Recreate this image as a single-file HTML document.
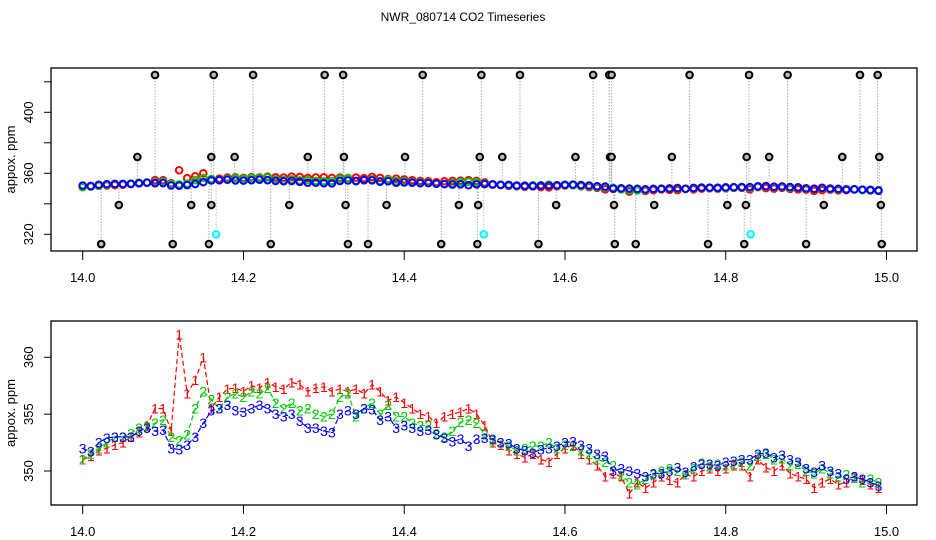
<!DOCTYPE html>
<html><head><meta charset="utf-8"><style>
html,body{margin:0;padding:0;background:#fff;}
svg{display:block;font-family:"Liberation Sans",sans-serif;}
</style></head><body>
<svg id="chart" width="936" height="540" xmlns="http://www.w3.org/2000/svg">
<text x="463" y="21" font-size="12" text-anchor="middle">NWR_080714  CO2 Timeseries</text>
<g id="top"></g>
<g id="bot"></g>
</svg>
<script>
const xStart = 14.0, xStep = 0.01;
const s1 = [351.0,351.3,351.8,352.0,352.3,352.5,353.0,353.4,354.0,355.5,
355.5,353.5,362.0,356.8,358.0,360.0,355.5,356.5,357.2,357.3,
357.0,357.5,357.3,357.8,357.4,357.2,357.8,357.6,357.0,357.3,
357.4,357.0,357.2,357.0,357.2,356.8,357.6,357.0,356.2,356.5,
356.0,355.5,355.0,354.8,354.2,354.8,355.0,355.2,355.5,355.0,
354.0,352.5,352.3,351.8,351.5,351.2,351.5,351.0,350.8,351.5,
352.0,352.3,351.5,351.0,350.5,349.5,349.8,349.5,348.0,349.0,
348.5,349.0,349.5,349.2,349.0,349.7,349.5,350.0,350.2,350.0,
350.2,350.5,350.5,349.5,351.0,350.3,350.0,350.5,349.8,349.5,
349.3,348.5,349.0,349.3,348.8,349.0,349.5,349.2,348.8,348.5];
const s2 = [351.0,351.5,352.0,352.5,353.0,353.0,353.3,353.8,353.9,354.2,
354.5,353.0,352.7,353.2,355.5,357.0,356.3,355.5,356.5,356.8,
356.5,357.0,356.8,357.3,356.0,355.5,356.0,355.3,355.5,355.0,
354.8,355.0,356.5,356.8,354.8,355.5,356.0,355.0,355.8,354.8,
354.8,354.2,354.0,354.0,353.3,353.0,353.5,354.3,354.5,354.2,
353.2,352.7,352.5,352.2,351.8,352.0,352.2,352.2,352.5,352.0,
352.3,352.2,351.8,351.5,351.0,350.8,350.5,349.6,349.0,348.8,
349.3,349.7,350.0,350.2,350.0,349.7,350.2,350.7,350.4,350.6,
350.5,350.6,350.8,350.5,351.3,351.5,351.0,351.1,350.5,350.6,
350.0,349.8,350.2,349.8,349.5,349.7,349.4,349.0,349.3,349.0];
const s3 = [352.0,351.7,352.5,352.9,353.0,353.0,353.0,353.5,353.8,353.5,
353.6,352.0,351.9,352.3,353.0,354.2,355.3,355.5,355.8,355.3,
355.2,355.5,355.8,355.5,355.0,354.8,355.0,354.4,353.8,353.8,
353.5,353.4,355.0,355.3,355.0,355.5,355.4,354.5,354.8,353.8,
354.0,353.8,353.5,353.6,353.2,352.9,352.6,352.8,352.2,352.8,
352.9,352.8,352.5,352.4,352.0,351.8,351.6,351.9,352.0,352.2,
352.5,352.6,352.3,352.0,351.5,351.3,350.0,350.2,350.0,349.8,
349.5,349.8,349.8,350.0,350.3,349.9,350.4,350.6,350.6,350.5,
350.8,350.9,351.0,351.0,351.5,351.6,351.2,351.4,351.0,350.8,
350.2,349.9,350.5,350.0,349.8,349.3,349.5,349.3,349.0,348.7];
const outX424 = [14.090,14.163,14.212,14.301,14.324,14.423,14.496,14.544,14.635,14.655,14.658,14.755,14.829,14.877,14.967,14.989];
const outX371 = [14.068,14.160,14.189,14.280,14.325,14.401,14.494,14.522,14.613,14.656,14.658,14.733,14.826,14.854,14.945,14.991];
const outX339 = [14.045,14.135,14.160,14.257,14.327,14.378,14.468,14.492,14.589,14.661,14.711,14.802,14.825,14.922,14.993];
const outX314 = [14.023,14.112,14.157,14.234,14.330,14.355,14.446,14.491,14.567,14.662,14.688,14.778,14.823,14.900,14.994];
const outXcyan = [14.166,14.499,14.831];
const outLevels = [424.5,370.7,339.2,313.6];
const cyanLevel = 320;
const xTicks = ["14.0","14.2","14.4","14.6","14.8","15.0"];
const topYTicks = [320,340,360,380,400,420];
const topYLabels = ["320","","360","","400",""];
const botYTicks = [350,355,360];

const NS="http://www.w3.org/2000/svg";
function mk(tag, attrs, parent){const e=document.createElementNS(NS,tag);for(const k in attrs)e.setAttribute(k,attrs[k]);parent.appendChild(e);return e;}
const xs = v => 82.7 + (v-14)*803.8;
const yTop = v => 173.3 - (v-360)*1.525;
const yBot = v => 471 - (v-350)*11.37;
const xOf = i => xStart + i*xStep;

function frame(g, top, bottom, yFn, ticks, labels, yname){
  const box=mk('rect',{x:51,y:top,width:866,height:bottom-top,fill:'none',stroke:'#000','stroke-width':1.3},g);
  
  
  xTicks.forEach(t=>{
    const x=xs(parseFloat(t));
    const l=mk('line',{x1:x,y1:bottom,x2:x,y2:bottom+9,stroke:'#000'},g);
    
    
    const tx=mk('text',{x:x,y:bottom+31,'font-size':13,'text-anchor':'middle'},g);
    tx.textContent=t;
    
    
  });
  ticks.forEach((t,i)=>{
    const y=yFn(t);
    const l=mk('line',{x1:44,y1:y,x2:51,y2:y,stroke:'#000'},g);
    
    
    const lab = labels ? labels[i] : String(t);
    if(lab){
      const tx=mk('text',{x:0,y:0,'font-size':13,'text-anchor':'middle',transform:`translate(33,${y}) rotate(-90)`},g);
      tx.textContent=lab;
      
      
    }
  });
  const yt=mk('text',{x:0,y:0,'font-size':13,'text-anchor':'middle',transform:`translate(15,${(top+bottom)/2}) rotate(-90)`},g);
  yt.textContent='appox. ppm';
  
  
}

// Top panel
const gt=document.getElementById('top');
frame(gt,68,251,yTop,topYTicks,topYLabels,'top-y-axis-title');
const outs=[outX424,outX371,outX339,outX314];
outs.forEach((arr,li)=>arr.forEach(x=>{
  const l=mk('line',{x1:xs(x),y1:yTop(outLevels[li]),x2:xs(x),y2:yTop(353),stroke:'#aaa','stroke-dasharray':'1.5,1.5'},gt);
  
  
}));
outXcyan.forEach(x=>{
  const l=mk('line',{x1:xs(x),y1:yTop(cyanLevel),x2:xs(x),y2:yTop(353),stroke:'#bbb','stroke-dasharray':'1.5,1.5'},gt);
  
  
});
[[s1,'#f00','series1-point'],[s2,'#0c0','series2-point'],[s3,'#00f','series3-point']].forEach(([s,c,n])=>{
  s.forEach((v,i)=>{
    const p=mk('circle',{cx:xs(xOf(i)),cy:yTop(v),r:3.3,fill:'none',stroke:c,'stroke-width':2},gt);
    
    
  });
});
outs.forEach((arr,li)=>arr.forEach(x=>{
  const p=mk('circle',{cx:xs(x),cy:yTop(outLevels[li]),r:3.3,fill:'#bbb',stroke:'#000','stroke-width':2},gt);
  
  
}));
outXcyan.forEach(x=>{
  const p=mk('circle',{cx:xs(x),cy:yTop(cyanLevel),r:3.3,fill:'#ddd',stroke:'#0ff','stroke-width':2},gt);
  
  
});

// Bottom panel
const gb=document.getElementById('bot');
frame(gb,321,505,yBot,botYTicks,null,'bottom-y-axis-title');
[[s1,'#f00','1','series1'],[s2,'#0c0','2','series2'],[s3,'#00f','3','series3']].forEach(([s,c,ch,n])=>{
  const pts=s.map((v,i)=>xs(xOf(i)).toFixed(1)+','+yBot(v).toFixed(1)).join(' ');
  const pl=mk('polyline',{points:pts,fill:'none',stroke:c,'stroke-width':1.2,'stroke-dasharray':'5,3'},gb);
  
  
  s.forEach((v,i)=>{
    const t=mk('text',{x:xs(xOf(i)),y:yBot(v)+5,'font-size':14,fill:c,'text-anchor':'middle'},gb);
    t.textContent=ch;
    
    
  });
});
</script>
</body></html>
